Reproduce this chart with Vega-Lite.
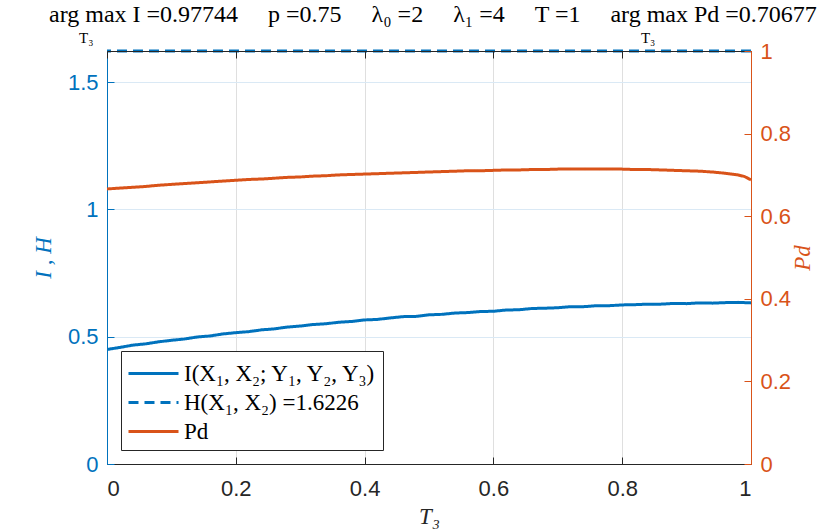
{
  "$schema": "https://vega.github.io/schema/vega-lite/v6.json",
  "width": 644,
  "height": 413,
  "autosize": {"type": "none"},
  "padding": {"left": 107, "top": 51, "right": 79, "bottom": 68},
  "background": "white",
  "title": {
    "text": "arg max I =0.97744\u2003 p =0.75\u2003 λ₀ =2\u2003 λ₁ =4\u2003 T =1\u2003 arg max Pd =0.70677",
    "subtitle": "\u200B\u2003\u2003T₃\u2003\u2003\u2003\u2003\u2003\u2003\u2003\u2003\u2003\u2003\u2003\u2003\u2003\u2003\u2003\u2003\u2003\u2003\u2003\u2003\u2003\u2003\u2003\u2003\u2003\u2003\u2003\u2003\u2003\u2003\u2003\u2003\u2003\u2003\u2003\u2003\u2002T₃",
    "anchor": "start",
    "frame": "group",
    "dx": -58,
    "dy": 9,
    "font": "Liberation Serif",
    "fontSize": 24,
    "fontWeight": "normal",
    "color": "#000000",
    "subtitleFont": "Liberation Serif",
    "subtitleFontSize": 15,
    "subtitleColor": "#000000",
    "subtitlePadding": 4,
    "offset": 3
  },
  "config": {
    "view": {"stroke": null},
    "axis": {
      "labelFont": "Liberation Sans",
      "labelFontSize": 22,
      "titleFont": "Liberation Serif",
      "titleFontStyle": "italic",
      "titleFontWeight": "normal",
      "titleFontSize": 23,
      "tickSize": -7,
      "tickWidth": 1,
      "domainWidth": 1,
      "format": "~g"
    },
    "legend": {
      "orient": "bottom-left",
      "offset": 14,
      "fillColor": "white",
      "strokeColor": "#262626",
      "padding": 6,
      "labelFont": "Liberation Serif",
      "labelFontSize": 23,
      "labelColor": "#000000",
      "symbolType": "M-1.667,0H1.667",
      "symbolSize": 900,
      "symbolStrokeWidth": 3,
      "symbolOffset": 10,
      "rowPadding": 0,
      "labelOffset": 14,
      "labelLimit": 400,
      "title": null
    }
  },
  "data": {
    "values": [
      {"t": 0.00, "I": 0.450, "Pd": 0.666},
      {"t": 0.02, "I": 0.458, "Pd": 0.668},
      {"t": 0.04, "I": 0.467, "Pd": 0.670},
      {"t": 0.06, "I": 0.472, "Pd": 0.672},
      {"t": 0.08, "I": 0.480, "Pd": 0.675},
      {"t": 0.10, "I": 0.486, "Pd": 0.677},
      {"t": 0.12, "I": 0.491, "Pd": 0.679},
      {"t": 0.14, "I": 0.499, "Pd": 0.681},
      {"t": 0.16, "I": 0.503, "Pd": 0.683},
      {"t": 0.18, "I": 0.511, "Pd": 0.685},
      {"t": 0.20, "I": 0.516, "Pd": 0.687},
      {"t": 0.22, "I": 0.520, "Pd": 0.689},
      {"t": 0.24, "I": 0.527, "Pd": 0.690},
      {"t": 0.26, "I": 0.531, "Pd": 0.692},
      {"t": 0.28, "I": 0.538, "Pd": 0.694},
      {"t": 0.30, "I": 0.542, "Pd": 0.695},
      {"t": 0.32, "I": 0.548, "Pd": 0.697},
      {"t": 0.34, "I": 0.551, "Pd": 0.698},
      {"t": 0.36, "I": 0.557, "Pd": 0.700},
      {"t": 0.38, "I": 0.560, "Pd": 0.701},
      {"t": 0.40, "I": 0.566, "Pd": 0.702},
      {"t": 0.42, "I": 0.568, "Pd": 0.703},
      {"t": 0.44, "I": 0.574, "Pd": 0.704},
      {"t": 0.46, "I": 0.579, "Pd": 0.705},
      {"t": 0.48, "I": 0.580, "Pd": 0.706},
      {"t": 0.50, "I": 0.586, "Pd": 0.707},
      {"t": 0.52, "I": 0.588, "Pd": 0.708},
      {"t": 0.54, "I": 0.593, "Pd": 0.709},
      {"t": 0.56, "I": 0.595, "Pd": 0.710},
      {"t": 0.58, "I": 0.599, "Pd": 0.710},
      {"t": 0.60, "I": 0.600, "Pd": 0.711},
      {"t": 0.62, "I": 0.605, "Pd": 0.712},
      {"t": 0.64, "I": 0.606, "Pd": 0.712},
      {"t": 0.66, "I": 0.611, "Pd": 0.713},
      {"t": 0.68, "I": 0.612, "Pd": 0.713},
      {"t": 0.70, "I": 0.614, "Pd": 0.714},
      {"t": 0.72, "I": 0.618, "Pd": 0.714},
      {"t": 0.74, "I": 0.618, "Pd": 0.714},
      {"t": 0.76, "I": 0.622, "Pd": 0.714},
      {"t": 0.78, "I": 0.622, "Pd": 0.714},
      {"t": 0.80, "I": 0.625, "Pd": 0.714},
      {"t": 0.82, "I": 0.626, "Pd": 0.713},
      {"t": 0.84, "I": 0.628, "Pd": 0.713},
      {"t": 0.86, "I": 0.628, "Pd": 0.712},
      {"t": 0.88, "I": 0.631, "Pd": 0.711},
      {"t": 0.90, "I": 0.630, "Pd": 0.710},
      {"t": 0.92, "I": 0.633, "Pd": 0.709},
      {"t": 0.94, "I": 0.632, "Pd": 0.707},
      {"t": 0.96, "I": 0.634, "Pd": 0.704},
      {"t": 0.98, "I": 0.635, "Pd": 0.700},
      {"t": 0.99, "I": 0.634, "Pd": 0.696},
      {"t": 1.00, "I": 0.633, "Pd": 0.688}
    ]
  },
  "layer": [
    {
      "layer": [
        {
          "mark": {"type": "line", "strokeWidth": 3, "clip": true},
          "encoding": {
            "x": {
              "field": "t", "type": "quantitative",
              "scale": {"domain": [0, 1], "nice": false},
              "axis": {
                "orient": "bottom", "values": [0, 0.2, 0.4, 0.6, 0.8, 1],
                "title": "T₃", "titleColor": "#262626", "titlePadding": 6,
                "labelColor": "#262626", "labelPadding": 21,
                "domainColor": "#262626", "tickColor": "#262626",
                "grid": true, "gridColor": "#dfdfdf"
              }
            },
            "y": {
              "field": "I", "type": "quantitative",
              "scale": {"domain": [0, 1.6226], "nice": false},
              "axis": {
                "orient": "left", "values": [0, 0.5, 1, 1.5],
                "title": "I , H", "titleColor": "#0072BD", "titlePadding": 12,
                "labelColor": "#0072BD", "labelPadding": 16,
                "domainColor": "#0072BD", "tickColor": "#0072BD",
                "grid": true, "gridColor": "#dae9f5"
              }
            },
            "color": {
              "datum": "I(X₁, X₂; Y₁, Y₂, Y₃)",
              "scale": {
                "domain": ["I(X₁, X₂; Y₁, Y₂, Y₃)", "H(X₁, X₂) =1.6226", "Pd"],
                "range": ["#0072BD", "#0072BD", "#D95319"]
              }
            },
            "strokeDash": {
              "datum": "I(X₁, X₂; Y₁, Y₂, Y₃)",
              "scale": {
                "domain": ["I(X₁, X₂; Y₁, Y₂, Y₃)", "H(X₁, X₂) =1.6226", "Pd"],
                "range": [[1, 0], [10, 6], [1, 0]]
              }
            }
          }
        },
        {
          "data": {"values": [{"H": 1.6226}]},
          "mark": {"type": "rule", "strokeWidth": 3},
          "encoding": {
            "y": {"field": "H", "type": "quantitative"},
            "color": {"datum": "H(X₁, X₂) =1.6226"},
            "strokeDash": {"datum": "H(X₁, X₂) =1.6226"}
          }
        }
      ]
    },
    {
      "mark": {"type": "line", "strokeWidth": 3},
      "encoding": {
        "x": {
          "field": "t", "type": "quantitative",
          "scale": {"domain": [0, 1], "nice": false},
          "axis": {
            "orient": "top", "values": [0, 0.2, 0.4, 0.6, 0.8, 1],
            "labels": false, "title": null, "grid": false,
            "domainColor": "#262626", "tickColor": "#262626", "zindex": 1
          }
        },
        "y": {
          "field": "Pd", "type": "quantitative",
          "scale": {"domain": [0, 1], "nice": false},
          "axis": {
            "orient": "right", "values": [0, 0.2, 0.4, 0.6, 0.8, 1],
            "title": "Pd", "titleColor": "#D95319", "titlePadding": 24, "titleAngle": 270,
            "labelColor": "#D95319", "labelPadding": 16,
            "domainColor": "#D95319", "tickColor": "#D95319",
            "grid": false, "zindex": 1
          }
        },
        "color": {"datum": "Pd"},
        "strokeDash": {"datum": "Pd"}
      }
    }
  ],
  "resolve": {"scale": {"y": "independent", "x": "independent"}}
}
